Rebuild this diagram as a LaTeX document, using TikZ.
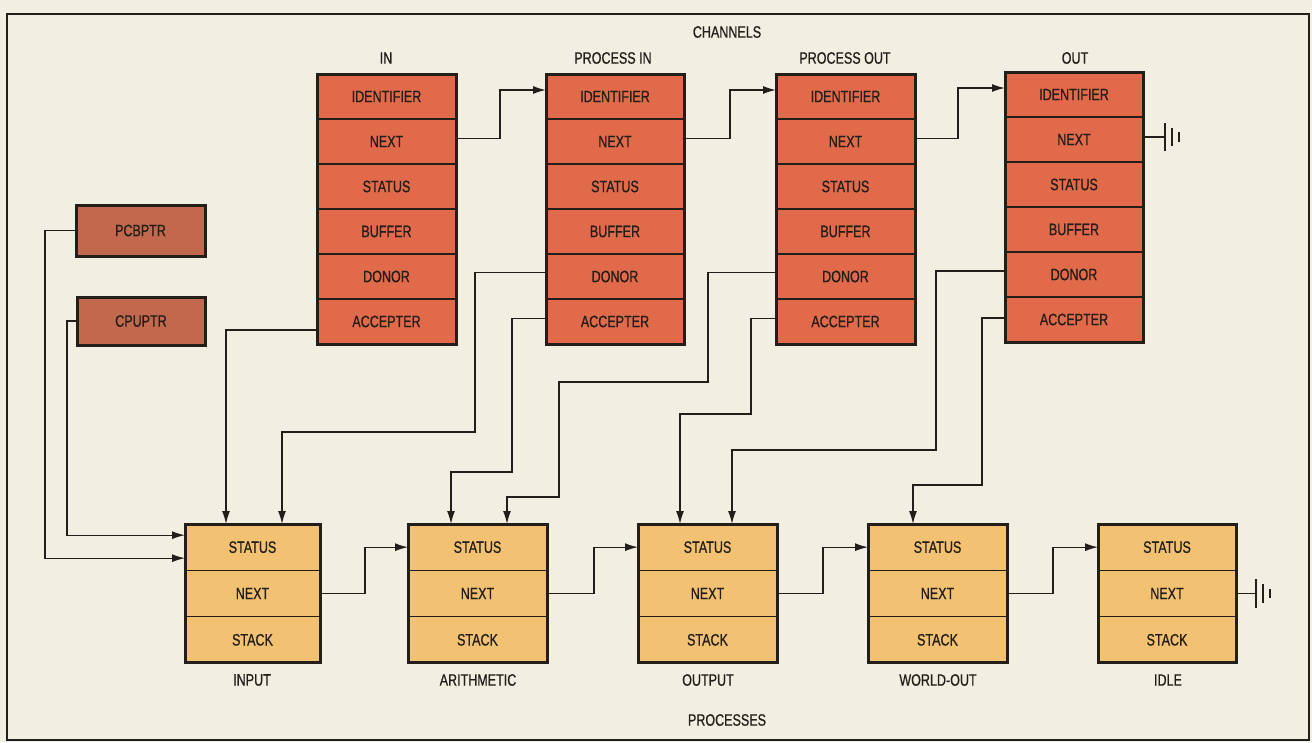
\documentclass[tikz,border=0pt]{standalone}
\usepackage{fontspec}
\setmainfont{Liberation Sans}[FakeStretch=0.76,FakeBold=0.7]
\usetikzlibrary{arrows.meta}
\definecolor{paper}{HTML}{F1EFE1}
\definecolor{chan}{HTML}{E06A4A}
\definecolor{ptr}{HTML}{C2684C}
\definecolor{proc}{HTML}{F2C272}
\definecolor{ink}{HTML}{231E1A}
\tikzset{
  every node/.style={font=\fontsize{16.5}{19}\selectfont, text=ink},
  crow/.style={draw=ink, line width=1.5pt, fill=chan, minimum height=45pt, inner sep=0pt, outer sep=0pt},
  prow/.style={draw=ink, line width=1.5pt, fill=proc, minimum height=46.33pt, inner sep=0pt, outer sep=0pt},
  ptrbox/.style={draw=ink, line width=3pt, fill=ptr, inner sep=0pt, outer sep=0pt},
  boxborder/.style={draw=ink, line width=3pt},
  conn/.style={draw=ink, line width=1.3pt},
  arr/.style={conn, -{Latex[length=13pt,width=8pt]}},
  gbar/.style={draw=ink, line width=2.4pt},
}
\newcommand\chanbox[4]{%
  \foreach \lab [count=\i] in {IDENTIFIER,NEXT,STATUS,BUFFER,DONOR,ACCEPTER} {
    \node[crow, minimum width=#4pt, anchor=north west] (#1-\i) at (#2, {#3+(\i-1)*45}) {\lab};
  }
  \draw[boxborder] (#1-1.north west) rectangle (#1-6.south east);
}
\newcommand\procbox[4]{%
  \foreach \lab [count=\i] in {STATUS,NEXT,STACK} {
    \node[prow, minimum width=#4pt, anchor=north west] (#1-\i) at (#2, {#3+(\i-1)*46.33}) {\lab};
  }
  \draw[boxborder] (#1-1.north west) rectangle (#1-3.south east);
}
\begin{document}
\begin{tikzpicture}[x=1pt,y=-1pt]
\useasboundingbox (0,0) rectangle (1312,742);
\fill[paper] (0,0) rectangle (1312,742);
\draw[ink, line width=2.5pt] (7,14) rectangle (1309,740);

% titles
\node (chl) at (727,32) {CHANNELS};
\node (prl) at (727,720) {PROCESSES};
\node (lin) at (386,58) {IN};
\node (lpin) at (613,58) {PROCESS IN};
\node (lpout) at (845,58) {PROCESS OUT};
\node (lout) at (1075,58) {OUT};

% channel boxes
\chanbox{in}{317}{74}{139}
\chanbox{pin}{546}{74}{138}
\chanbox{pout}{776}{74}{139}
\chanbox{out}{1005}{72}{138}

% process boxes
\procbox{p1}{185}{524}{135}
\procbox{p2}{408}{524}{139}
\procbox{p3}{638}{524}{139}
\procbox{p4}{868}{524}{139}
\procbox{p5}{1098}{524}{138}

\node (l1) at (252,680) {INPUT};
\node (l2) at (478,680) {ARITHMETIC};
\node (l3) at (708,680) {OUTPUT};
\node (l4) at (938,680) {WORLD-OUT};
\node (l5) at (1168,680) {IDLE};

% pointer boxes
\node[ptrbox, minimum width=129pt, minimum height=51pt, anchor=north west] (pcb) at (76,205) {PCBPTR};
\node[ptrbox, minimum width=128pt, minimum height=48pt, anchor=north west] (cpu) at (77,297) {CPUPTR};

% channel NEXT chain
\draw[arr] ([yshift=3pt]in-2.east) -- ++(44,0) |- ([yshift=6.5pt]pin-1.west);
\draw[arr] ([yshift=3pt]pin-2.east) -- ++(46,0) |- ([yshift=6.5pt]pout-1.west);
\draw[arr] ([yshift=3pt]pout-2.east) -- ++(43,0) |- ([yshift=6.5pt]out-1.west);
\draw[conn] ([yshift=2.5pt]out-2.east) -- ++(22,0) coordinate (g1);
\draw[gbar] (g1) ++(0,-14) -- ++(0,28) (g1) ++(7,-9) -- ++(0,18) (g1) ++(14,-5) -- ++(0,10);

% process NEXT chain
\draw[arr] (p1-2.east) -- ++(45,0) |- (p2-1.west);
\draw[arr] (p2-2.east) -- ++(47,0) |- (p3-1.west);
\draw[arr] (p3-2.east) -- ++(46,0) |- (p4-1.west);
\draw[arr] (p4-2.east) -- ++(46,0) |- (p5-1.west);
\draw[conn] (p5-2.east) -- ++(20,0) coordinate (g2);
\draw[gbar] (g2) ++(0,-14.5) -- ++(0,29) (g2) ++(7,-9.5) -- ++(0,19) (g2) ++(14,-4.5) -- ++(0,9);

% pointers
\draw[arr] (pcb.west) -- ++(-31,0) |- ([yshift=-11pt]p1-1.west);
\draw[arr] (cpu.west) -- ++(-10,0) |- ([yshift=12pt]p1-1.west);

% donor / accepter links
\draw[arr] ([yshift=-8.5pt]in-6.west) -| ([xshift=41pt]p1-1.north west);
\draw[arr] ([yshift=4pt]pin-5.west) -| (475,432) -| ([xshift=97pt]p1-1.north west);
\draw[arr] ([yshift=3pt]pin-6.west) -| (512,472) -| ([xshift=43pt]p2-1.north west);
\draw[arr] ([yshift=4pt]pout-5.west) -| (708,382) -| (559,497) -| ([xshift=99pt]p2-1.north west);
\draw[arr] ([yshift=3pt]pout-6.west) -| (751,414) -| ([xshift=42pt]p3-1.north west);
\draw[arr] ([yshift=3.5pt]out-5.west) -| (936,450) -| ([xshift=94pt]p3-1.north west);
\draw[arr] ([yshift=1.5pt]out-6.west) -| (982,485) -| ([xshift=45pt]p4-1.north west);
\end{tikzpicture}
\end{document}
